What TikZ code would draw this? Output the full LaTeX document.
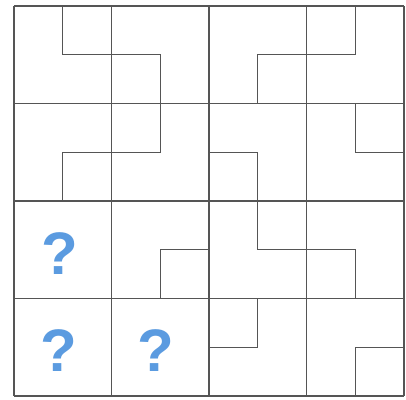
\documentclass[tikz,border=0pt]{standalone}
\usepackage{fontspec}
\setmainfont{Liberation Sans}
\definecolor{qblue}{HTML}{5B9BE0}
\definecolor{lgray}{HTML}{555555}
\begin{document}
\begin{tikzpicture}[x=1pt,y=-1pt,
  gridline/.style={draw=lgray,line width=1.1pt},
  qmark/.style={text=qblue,font=\fontsize{60}{60}\selectfont\bfseries,inner sep=0pt}]
\useasboundingbox (0,0) rectangle (406,399);
\fill[white] (0,0) rectangle (406,399);
\def\cs{97.5}
% outer grid
\foreach \i in {0,...,4} {
  \draw[gridline] (14+\i*\cs,6) -- (14+\i*\cs,396);
  \draw[gridline] (14,6+\i*\cs) -- (404,6+\i*\cs);
}
% inner L-lines, in cell coordinates (col,row), fractions
\newcommand{\lpath}[8]{%
  \draw[gridline] (14+#1*\cs+#3*\cs,6+#2*\cs+#4*\cs) -- (14+#1*\cs+#5*\cs,6+#2*\cs+#6*\cs) -- (14+#1*\cs+#7*\cs,6+#2*\cs+#8*\cs);}
\lpath{0}{0}{0.5}{0}{0.5}{0.5}{1}{0.5}
\lpath{1}{0}{0}{0.5}{0.5}{0.5}{0.5}{1}
\lpath{2}{0}{0.5}{1}{0.5}{0.5}{1}{0.5}
\lpath{3}{0}{0}{0.5}{0.5}{0.5}{0.5}{0}
\lpath{0}{1}{0.5}{1}{0.5}{0.5}{1}{0.5}
\lpath{1}{1}{0.5}{0}{0.5}{0.5}{0}{0.5}
\lpath{2}{1}{0}{0.5}{0.5}{0.5}{0.5}{1}
\lpath{3}{1}{0.5}{0}{0.5}{0.5}{1}{0.5}
\lpath{1}{2}{1}{0.5}{0.5}{0.5}{0.5}{1}
\lpath{2}{2}{0.5}{0}{0.5}{0.5}{1}{0.5}
\lpath{3}{2}{0}{0.5}{0.5}{0.5}{0.5}{1}
\lpath{2}{3}{0.5}{0}{0.5}{0.5}{0}{0.5}
\lpath{3}{3}{1}{0.5}{0.5}{0.5}{0.5}{1}
% question marks
\node[qmark] (q1) at (60,254) {?};
\node[qmark] (q2) at (59,351) {?};
\node[qmark] (q3) at (156,351) {?};
\end{tikzpicture}
\end{document}
